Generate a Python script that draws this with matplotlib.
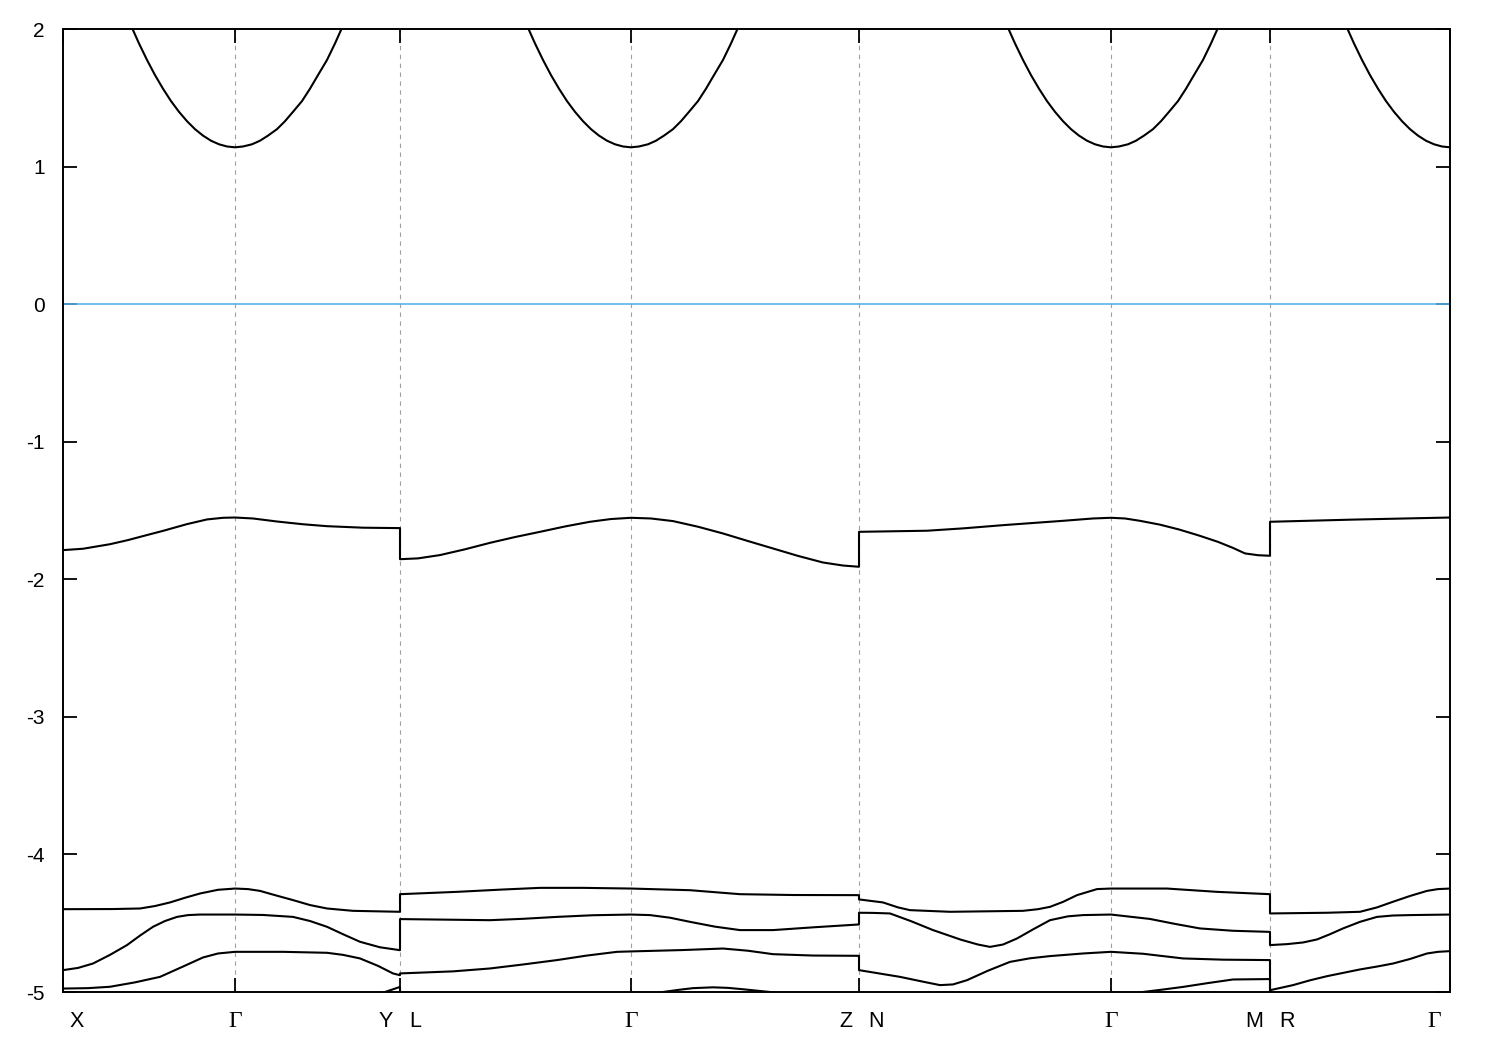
import matplotlib
matplotlib.use('Agg')
import matplotlib.pyplot as plt

plt.rcParams['font.family'] = ['Liberation Sans', 'DejaVu Sans']
plt.rcParams['axes.unicode_minus'] = False

# high-symmetry points along the k path
kpts = [0.00, 1.72, 3.37, 5.68, 7.96, 10.48, 12.07, 13.87]
klabels = [('X', ''), ('', 'Γ'), ('Y', 'L'), ('', 'Γ'), ('Z', 'N'), ('', 'Γ'), ('M', 'R'), ('', 'Γ')]

# conduction band valleys (one piece per Gamma point)
cb_pieces_k = [
    [0.47, 0.60, 0.68, 0.76, 0.84, 0.92, 1.00, 1.08, 1.16, 1.24, 1.32, 1.40, 1.48, 1.56, 1.64, 1.72,
     1.80, 1.89, 1.97, 2.05, 2.14, 2.22, 2.30, 2.39, 2.47, 2.55, 2.64, 2.72, 2.80, 2.88, 3.02],
    [4.43, 4.56, 4.64, 4.72, 4.80, 4.88, 4.96, 5.04, 5.12, 5.20, 5.28, 5.36, 5.44, 5.52, 5.60, 5.68,
     5.76, 5.85, 5.93, 6.01, 6.10, 6.18, 6.26, 6.35, 6.43, 6.51, 6.60, 6.68, 6.76, 6.84, 6.98],
    [9.23, 9.36, 9.44, 9.52, 9.60, 9.68, 9.76, 9.84, 9.92, 10.00, 10.08, 10.16, 10.24, 10.32, 10.40, 10.48,
     10.56, 10.65, 10.73, 10.81, 10.90, 10.98, 11.06, 11.15, 11.23, 11.31, 11.40, 11.48, 11.56, 11.64, 11.78],
    [12.62, 12.75, 12.83, 12.91, 12.99, 13.07, 13.15, 13.23, 13.31, 13.39, 13.47, 13.55, 13.63, 13.71, 13.79, 13.87],
]
cb_valley_e = [2.40, 2.165, 2.025, 1.895, 1.775, 1.665, 1.566, 1.476, 1.398, 1.330, 1.272, 1.225, 1.188, 1.162, 1.146, 1.140,
               1.146, 1.162, 1.188, 1.225, 1.272, 1.330, 1.398, 1.476, 1.566, 1.665, 1.775, 1.895, 2.025, 2.165, 2.40]

# valence bands (continuous through the path, with jumps at the breaks)
vb1_k = [0.00, 0.20, 0.47, 0.65, 0.80, 1.00, 1.24, 1.44, 1.60, 1.72,
         1.90, 2.14, 2.40, 2.64, 3.00, 3.37,
         3.37, 3.55, 3.77, 4.02, 4.27, 4.52, 4.77, 5.02, 5.27, 5.48, 5.68,
         5.88, 6.10, 6.35, 6.60, 6.85, 7.10, 7.35, 7.60, 7.80, 7.96,
         7.96, 8.64, 9.00, 9.41, 10.00, 10.30, 10.48,
         10.62, 10.77, 10.97, 11.16, 11.36, 11.55, 11.70, 11.82, 11.95, 12.07,
         12.07, 12.91, 13.87]
vb1_e = [-1.788, -1.778, -1.745, -1.715, -1.686, -1.648, -1.599, -1.565, -1.553, -1.551,
         -1.558, -1.580, -1.600, -1.614, -1.625, -1.628,
         -1.854, -1.848, -1.824, -1.782, -1.735, -1.693, -1.655, -1.616, -1.582, -1.562, -1.553,
         -1.558, -1.577, -1.618, -1.667, -1.722, -1.776, -1.830, -1.878, -1.900, -1.909,
         -1.655, -1.647, -1.630, -1.606, -1.575, -1.558, -1.553,
         -1.558, -1.575, -1.603, -1.638, -1.682, -1.728, -1.772, -1.812, -1.825, -1.829,
         -1.582, -1.566, -1.551]

vb2_k = [0.00, 0.50, 0.77, 0.92, 1.07, 1.22, 1.37, 1.55, 1.72,
         1.85, 1.97, 2.13, 2.30, 2.47, 2.64, 2.90, 3.37,
         3.37, 3.94, 4.40, 4.77, 5.20, 5.68,
         6.27, 6.77, 7.30, 7.96,
         7.96, 8.20, 8.35, 8.47, 8.87, 9.60, 9.75, 9.87, 10.00, 10.14, 10.34, 10.48,
         11.04, 11.54, 12.07,
         12.07, 12.64, 12.97, 13.14, 13.30, 13.47, 13.64, 13.75, 13.87]
vb2_e = [-4.398, -4.397, -4.393, -4.375, -4.349, -4.315, -4.284, -4.257, -4.248,
         -4.252, -4.265, -4.298, -4.332, -4.368, -4.393, -4.410, -4.417,
         -4.289, -4.272, -4.255, -4.243, -4.243, -4.248,
         -4.260, -4.289, -4.295, -4.296,
         -4.327, -4.349, -4.385, -4.405, -4.417, -4.410, -4.398, -4.381, -4.345, -4.296, -4.252, -4.248,
         -4.248, -4.272, -4.289,
         -4.429, -4.424, -4.417, -4.385, -4.344, -4.302, -4.265, -4.252, -4.248]

vb3_k = [0.00, 0.15, 0.30, 0.47, 0.64, 0.77, 0.90, 1.02, 1.14, 1.25, 1.37, 1.72,
         2.00, 2.30, 2.47, 2.64, 2.80, 2.97, 3.17, 3.37,
         3.37, 4.27, 4.60, 4.94, 5.30, 5.68,
         5.87, 6.07, 6.27, 6.52, 6.77, 7.10, 7.50, 7.96,
         7.96, 8.10, 8.27, 8.48, 8.70, 8.98, 9.15, 9.27, 9.40, 9.54, 9.70, 9.87, 10.05, 10.20, 10.48,
         10.87, 11.12, 11.37, 11.70, 12.07,
         12.07, 12.24, 12.40, 12.54, 12.67, 12.80, 12.97, 13.14, 13.30, 13.47, 13.87]
vb3_e = [-4.841, -4.825, -4.793, -4.730, -4.659, -4.590, -4.526, -4.484, -4.454, -4.441, -4.437, -4.437,
         -4.440, -4.454, -4.484, -4.526, -4.580, -4.635, -4.675, -4.696,
         -4.470, -4.478, -4.468, -4.454, -4.442, -4.437,
         -4.441, -4.460, -4.490, -4.525, -4.550, -4.550, -4.530, -4.509,
         -4.424, -4.425, -4.429, -4.485, -4.550, -4.620, -4.655, -4.672, -4.655, -4.611, -4.545, -4.478, -4.450, -4.441, -4.437,
         -4.469, -4.505, -4.538, -4.555, -4.563,
         -4.659, -4.652, -4.640, -4.618, -4.580, -4.538, -4.490, -4.454, -4.444, -4.441, -4.437]

vb4_k = [0.00, 0.25, 0.47, 0.72, 0.97, 1.20, 1.40, 1.55, 1.72,
         2.20, 2.64, 2.80, 2.97, 3.15, 3.30, 3.37,
         3.37, 3.90, 4.27, 4.60, 4.94, 5.24, 5.54, 5.68,
         6.20, 6.60, 6.85, 7.10, 7.50, 7.96,
         7.96, 8.37, 8.60, 8.77, 8.90, 9.04, 9.25, 9.47, 9.67, 9.87, 10.20, 10.48,
         10.80, 11.20, 11.60, 12.07,
         12.07, 12.30, 12.47, 12.64, 12.97, 13.14, 13.30, 13.47, 13.64, 13.75, 13.87]
vb4_e = [-4.975, -4.972, -4.962, -4.930, -4.890, -4.815, -4.749, -4.720, -4.708,
         -4.708, -4.715, -4.730, -4.756, -4.810, -4.865, -4.878,
         -4.865, -4.850, -4.829, -4.800, -4.768, -4.735, -4.708, -4.705,
         -4.695, -4.684, -4.700, -4.725, -4.735, -4.737,
         -4.841, -4.890, -4.925, -4.950, -4.945, -4.914, -4.845, -4.781, -4.755, -4.739, -4.720, -4.708,
         -4.722, -4.756, -4.765, -4.768,
         -4.987, -4.950, -4.915, -4.885, -4.836, -4.815, -4.793, -4.760, -4.720, -4.708, -4.703]

vb5_k = [0.00, 1.72, 3.10, 3.22, 3.37,
         3.37, 5.68, 6.00, 6.15, 6.30, 6.50, 6.65, 6.80, 7.07, 7.96,
         7.96, 10.48, 10.80, 11.00, 11.20, 11.45, 11.70, 12.07,
         12.07, 13.87]
vb5_e = [-5.40, -5.25, -5.03, -5.00, -4.963,
         -5.15, -5.05, -5.00, -4.985, -4.972, -4.966, -4.970, -4.980, -5.00, -5.10,
         -5.20, -5.05, -5.00, -4.982, -4.963, -4.935, -4.909, -4.906,
         -5.20, -5.20]

vbands = [(vb1_k, vb1_e), (vb2_k, vb2_e), (vb3_k, vb3_e), (vb4_k, vb4_e), (vb5_k, vb5_e)]

fig = plt.figure(figsize=(15, 10.5), dpi=100)
ax = fig.add_axes([63/1500, 1 - 992/1050, (1450-63)/1500, (992-29)/1050])

for k in kpts[1:-1]:
    ax.axvline(k, color='#a0a0a0', lw=0.8, ls=(0, (4, 4)), zorder=1)

ax.axhline(0, color='#56b4e9', lw=1.2, zorder=2)

for ks in cb_pieces_k:
    ax.plot(ks, cb_valley_e[:len(ks)], color='black', lw=1.5, zorder=3)
for k, e in vbands:
    ax.plot(k, e, color='black', lw=1.5, zorder=3)

ax.set_xlim(kpts[0], kpts[-1])
ax.set_ylim(-5, 2)
ax.set_yticks([2, 1, 0, -1, -2, -3, -4, -5])
ax.set_xticks(kpts)
ax.set_xticklabels([])
ax.tick_params(axis='both', direction='in', length=10, width=1.3,
               top=True, right=True, labelsize=15, pad=13)
for sp in ax.spines.values():
    sp.set_linewidth(1.4)

for k, (left, right) in zip(kpts, klabels):
    if left and right:
        ax.annotate(left, (k, -5), xytext=(-5, -14), textcoords='offset points',
                    ha='right', va='top', fontsize=15.5)
        ax.annotate(right, (k, -5), xytext=(6.5, -14), textcoords='offset points',
                    ha='left', va='top', fontsize=15.5)
    elif left:
        ax.annotate(left, (k, -5), xytext=(5, -14), textcoords='offset points',
                    ha='left', va='top', fontsize=15.5)
    else:
        dx = -6.5 if k == kpts[-1] else 0
        ax.annotate(right, (k, -5), xytext=(dx, -14), textcoords='offset points',
                    ha='right' if dx else 'center', va='top', fontsize=17,
                    family=['Liberation Serif', 'DejaVu Serif'])

fig.savefig('out.png', dpi=100)
